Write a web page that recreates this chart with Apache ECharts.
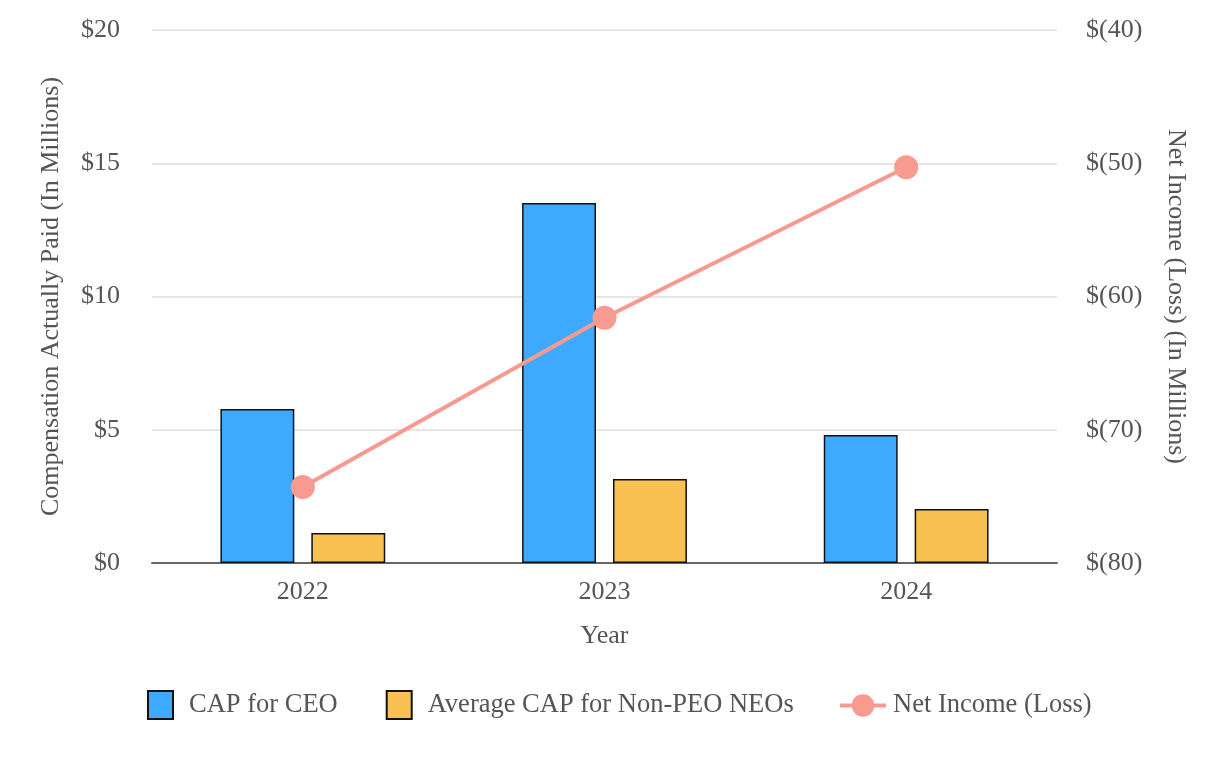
<!DOCTYPE html>
<html><head><meta charset="utf-8">
<script src="https://cdn.jsdelivr.net/npm/echarts@6/dist/echarts.min.js"></script>
<style>html,body{margin:0;padding:0;background:#fff}#c{width:1226px;height:760px}</style>
</head><body><div id="c"></div>
<script>
const years = ['2022','2023','2024'];
const capCEO = [5.78, 13.51, 4.80];
const capNEO = [1.13, 3.15, 2.03];
const netIncome = [-74.3, -61.6, -50.3];
const leftTicks = [0, 5, 10, 15, 20];
const rightTicks = [-80, -70, -60, -50, -40];

const FONT = '"Liberation Serif", "Times New Roman", serif';
const TXT = '#555';
const chart = echarts.init(document.getElementById('c'), null, {renderer:'canvas'});
chart.setOption({
  animation: false,
  backgroundColor: '#fff',
  textStyle: {fontFamily: FONT, color: TXT},
  grid: {left: 152, right: 169, top: 30, bottom: 197},
  legend: [{
    data: [{name: 'CAP for CEO', icon: 'rect'}, {name: 'Average CAP for Non-PEO NEOs', icon: 'rect'}],
    left: 142, top: 685, itemWidth: 25, itemHeight: 28, itemGap: 48,
    textStyle: {fontFamily: FONT, fontSize: 26.5, color: TXT, padding: [0, 0, 0, 11]}
  },{
    data: ['Net Income (Loss)'],
    left: 833, top: 687, itemWidth: 46, itemHeight: 28, itemGap: 10,
    lineStyle: {width: 4},
    textStyle: {fontFamily: FONT, fontSize: 26.5, color: TXT, padding: [0, 0, 0, 2]}
  }],
  xAxis: {
    type: 'category', data: years,
    name: 'Year', nameLocation: 'middle', nameGap: 60,
    nameTextStyle: {fontFamily: FONT, fontSize: 26, color: TXT},
    axisLine: {lineStyle: {color: '#666', width: 2}},
    axisTick: {alignWithLabel: true, length: 6, lineStyle: {color: '#888', width: 1.5}},
    axisLabel: {fontFamily: FONT, fontSize: 26, color: TXT, margin: 16}
  },
  yAxis: [{
    type: 'value', min: leftTicks[0], max: leftTicks[leftTicks.length-1], interval: 5,
    name: 'Compensation Actually Paid (In Millions)', nameLocation: 'middle', nameGap: 88,
    nameTextStyle: {fontFamily: FONT, fontSize: 26, color: TXT},
    axisLine: {show: false}, axisTick: {show: false},
    splitLine: {lineStyle: {color: '#e6e6e6', width: 2}},
    axisLabel: {fontFamily: FONT, fontSize: 26, color: TXT, margin: 32, formatter: v => '$' + v}
  },{
    type: 'value', min: rightTicks[0], max: rightTicks[rightTicks.length-1], interval: 10,
    position: 'right',
    name: 'Net Income (Loss) (In Millions)', nameLocation: 'middle', nameGap: 106, nameRotate: -90,
    nameTextStyle: {fontFamily: FONT, fontSize: 26, color: TXT},
    axisLine: {show: false}, axisTick: {show: false}, splitLine: {show: false},
    axisLabel: {fontFamily: FONT, fontSize: 26, color: TXT, margin: 29, formatter: v => '$(' + Math.abs(v) + ')'}
  }],
  series: [{
    name: 'CAP for CEO', type: 'bar', data: capCEO, barWidth: '24.5%', barGap: '23%',
    itemStyle: {color: '#3DAAFF', borderColor: '#111', borderWidth: 1.5}
  },{
    name: 'Average CAP for Non-PEO NEOs', type: 'bar', data: capNEO, barWidth: '24.5%', barGap: '23%',
    itemStyle: {color: '#F9C152', borderColor: '#111', borderWidth: 1.5}
  },{
    name: 'Net Income (Loss)', type: 'line', yAxisIndex: 1, data: netIncome,
    symbol: 'circle', symbolSize: 24,
    lineStyle: {color: '#F99A90', width: 4}, itemStyle: {color: '#F99A90'}
  }]
});
</script></body></html>
